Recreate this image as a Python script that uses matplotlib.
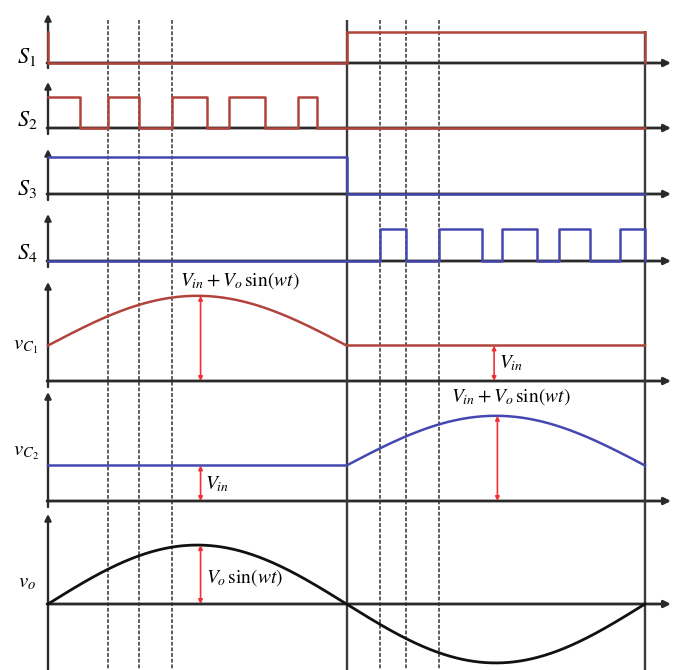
import numpy as np
import matplotlib
matplotlib.use("Agg")
import matplotlib.pyplot as plt

plt.rcParams["mathtext.fontset"] = "stix"
plt.rcParams["font.family"] = ["STIXGeneral", "DejaVu Serif"]

# ---- switching data (electrical angle, degrees) ----
S1_t = [0, 0, 180, 180, 360, 360]
S1_v = [1, 0, 0, 1, 1, 0]
S2_t = [0, 19, 36, 55, 75, 96, 109, 131, 151, 162, 360]
S2_v = [1, 0, 1, 0, 1, 0, 1, 0, 1, 0, 0]
S3_t = [0, 180, 180, 360]
S3_v = [1, 1, 0, 0]
S4_t = [0, 200, 216, 236, 262, 274, 295, 308, 327, 345, 360]
S4_v = [0, 1, 0, 1, 0, 1, 0, 1, 0, 1, 0]
guide_dashed = [36, 55, 75, 200, 216, 236]
guide_solid = [180, 360]

# ---- voltages (per unit) ----
Vin = 1.0
Vo = 1.4
wt = np.linspace(0, 360, 721)
s = np.sin(np.radians(wt))
vC1 = np.where(wt <= 180, Vin + Vo * s, Vin)
vC2 = np.where(wt <= 180, Vin, Vin - Vo * s)
vo = Vo * s

RED = "#b2433c"
BLUE = "#4548b0"
ARROW_RED = "#f03035"
AXC = "#2a2a2a"

W, H = 674, 670
X0, X1 = 48, 645          # pixel positions of 0 and 360 degrees
PXD = (X1 - X0) / 360.0

fig = plt.figure(figsize=(W / 100, H / 100), dpi=100)


def full_axes(ylim):
    ax = fig.add_axes([0, 0, 1, 1])
    ax.set_xlim(-X0 / PXD, (W - X0) / PXD)
    ax.set_ylim(*ylim)
    ax.axis("off")
    ax.patch.set_alpha(0)
    return ax


# pixel-space frame layer
axp = fig.add_axes([0, 0, 1, 1])
axp.set_xlim(0, W)
axp.set_ylim(H, 0)
axp.axis("off")

# guide lines layer (x in degrees, y in pixels)
axg = full_axes((H, 0))
axg.vlines(guide_dashed, 20, H, colors="#333333", lw=1.1, linestyles=(0, (2.5, 1.2)))
axg.vlines(guide_solid[0], 20, H, colors="#3a3a3a", lw=1.7)
axg.vlines(guide_solid[1], 31, H, colors="#3a3a3a", lw=1.7)

# panel layout: baseline pixel, pixels per unit, axis arrow top pixel, axis bottom pixel
panels = {
    "S1": (63, 31, 14, 68),
    "S2": (128, 31, 82, 134),
    "S3": (194, 37, 149, 200),
    "S4": (261, 32, 214, 267),
    "vC1": (381, 35.5, 282, 387),
    "vC2": (501, 35.5, 392, 507),
    "vo": (604, 42.1, 514, H),
}

axes = {}
for name, (b, sc, top, bot) in panels.items():
    axes[name] = full_axes((-(H - b) / sc, b / sc))
    # time axis with arrow
    axp.annotate("", xy=(671, b), xytext=(X0 - 1, b),
                 arrowprops=dict(arrowstyle="-|>", color=AXC, lw=2.0,
                                 mutation_scale=10, shrinkA=0, shrinkB=0))
    # vertical axis with arrow
    axp.annotate("", xy=(X0, top), xytext=(X0, bot),
                 arrowprops=dict(arrowstyle="-|>", color=AXC, lw=1.7,
                                 mutation_scale=9, shrinkA=0, shrinkB=0))

# switching signals
axes["S1"].plot(S1_t, S1_v, color=RED, lw=1.8, solid_joinstyle="miter")
axes["S2"].step(S2_t, S2_v, where="post", color=RED, lw=1.8)
axes["S3"].plot(S3_t, S3_v, color=BLUE, lw=1.8)
axes["S4"].step(S4_t, S4_v, where="post", color=BLUE, lw=1.8)

# capacitor and output voltages
axes["vC1"].plot(wt, vC1, color=RED, lw=1.8)
axes["vC2"].plot(wt, vC2, color=BLUE, lw=1.8)
axes["vo"].plot(wt, vo, color="#111111", lw=2.0)

# red dimension arrows
arrow_kw = dict(arrowstyle="<|-|>", color=ARROW_RED, lw=1.2,
                mutation_scale=6, shrinkA=0, shrinkB=0)


def dim_arrow(ax, x, y):
    ax.annotate("", xy=(x, y), xytext=(x, 0), arrowprops=arrow_kw)


dim_arrow(axes["vC1"], 92, Vin + Vo * np.sin(np.radians(92)))
dim_arrow(axes["vC1"], 269, Vin)
dim_arrow(axes["vC2"], 271, Vin - Vo * np.sin(np.radians(271)))
dim_arrow(axes["vC2"], 92, Vin)
dim_arrow(axes["vo"], 92, Vo * np.sin(np.radians(92)))

# annotations
ann_fs = 14
axp.text(180, 281, r"$V_{in}+V_o\,\mathrm{sin}(wt)$", fontsize=ann_fs, va="center", ha="left")
axp.text(499, 363, r"$V_{in}$", fontsize=ann_fs, va="center", ha="left")
axp.text(451, 397, r"$V_{in}+V_o\,\mathrm{sin}(wt)$", fontsize=ann_fs, va="center", ha="left")
axp.text(205, 484, r"$V_{in}$", fontsize=ann_fs, va="center", ha="left")
axp.text(206, 578, r"$V_o\,\mathrm{sin}(wt)$", fontsize=ann_fs, va="center", ha="left")

# signal names
lab_fs = 16
axp.text(27, 57, r"$S_1$", fontsize=lab_fs, va="center", ha="center")
axp.text(27, 120, r"$S_2$", fontsize=lab_fs, va="center", ha="center")
axp.text(27, 189, r"$S_3$", fontsize=lab_fs, va="center", ha="center")
axp.text(27, 253, r"$S_4$", fontsize=lab_fs, va="center", ha="center")
axp.text(26, 346, r"$v_{C_1}$", fontsize=15, va="center", ha="center")
axp.text(26, 452, r"$v_{C_2}$", fontsize=15, va="center", ha="center")
axp.text(27, 582, r"$v_o$", fontsize=15, va="center", ha="center")

fig.savefig("out.png", dpi=100)
